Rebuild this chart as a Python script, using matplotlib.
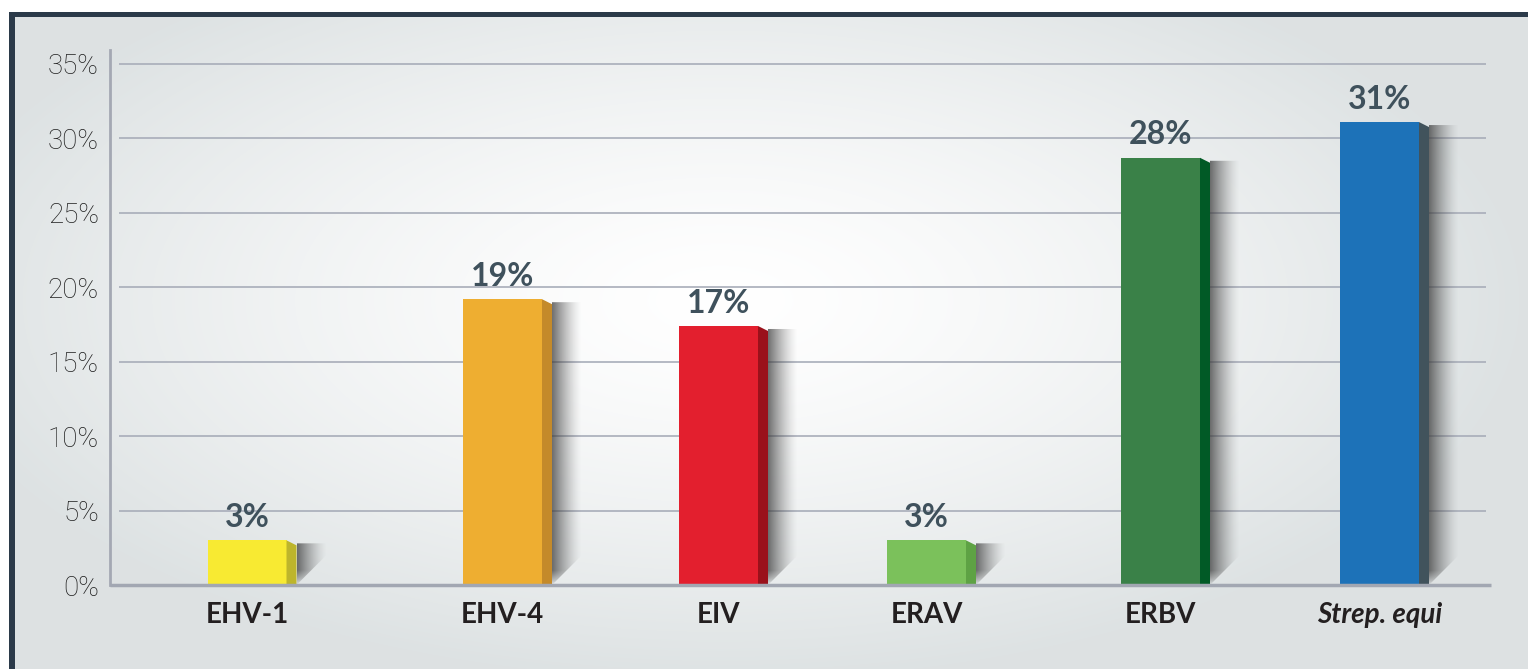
import matplotlib.pyplot as plt
import numpy as np
from matplotlib.patches import Polygon, Rectangle

categories = ['EHV-1', 'EHV-4', 'EIV', 'ERAV', 'ERBV', 'Strep. equi']
values = [3.0, 19.2, 17.4, 3.0, 28.7, 31.1]
value_labels = ['3%', '19%', '17%', '3%', '28%', '31%']
yticks = [0, 5, 10, 15, 20, 25, 30, 35]

front_colors = ['#f8ea32', '#eeae31', '#e31f2e', '#7bc15b', '#3a8148', '#1d72b8']
side_colors = ['#bdb52b', '#c48a2a', '#9a111b', '#5ea244', '#015a26', '#41535c']
x_pos = [247, 502.5, 718.5, 926.5, 1160.5, 1379.5]  # bar centres, in pixels

W, H = 1528, 669
fig = plt.figure(figsize=(W / 100, H / 100), dpi=100)

# background: soft radial glow + dark frame on top / left
bg = fig.add_axes([0, 0, 1, 1])
bg.axis('off')
yy, xx = np.mgrid[0:H, 0:W]
r = np.sqrt(((xx - 720) / 800.0) ** 2 + ((yy - 300) / 380.0) ** 2)
t = np.clip(r, 0, 1) ** 1.4
edge = np.array([0.867, 0.886, 0.890])
img = 1 - (1 - edge) * t[..., None]
dark = np.array([0.17, 0.23, 0.29])
img[:12, :] = 1
img[:, :9] = 1
img[12:17, 9:] = dark
img[12:, 9:15] = dark
bg.imshow(img, extent=[0, W, H, 0], aspect='auto', interpolation='bilinear')
bg.set_xlim(0, W)
bg.set_ylim(H, 0)

# plot area, in pixel units along x
x0, x1, ybot, ytop = 110, 1490, 585, 50
ppu = (585 - 64) / 35.0
ax = fig.add_axes([x0 / W, (H - ybot) / H, (x1 - x0) / W, (ybot - ytop) / H])
ax.patch.set_alpha(0)
ymax = (ybot - ytop) / ppu

ax.hlines(yticks[1:], 119, 1486, color='#a8adb9', lw=1.2, zorder=1)

half, side, d = 39.5, 10, 30
for x, v, fc, sc, lbl in zip(x_pos, values, front_colors, side_colors, value_labels):
    ax.add_patch(Rectangle((x - half, 0), 2 * half, v, facecolor=fc, edgecolor='none', zorder=4))
    ax.add_patch(Polygon([(x + half, 0), (x + half, v), (x + half + side, v - 5 / ppu),
                          (x + half + side, 0)], closed=True, facecolor=sc, edgecolor='none', zorder=4))
    # shadow
    xs = x + half + side
    top = v - 3 / ppu
    dy = d / ppu
    if top > dy:
        pts = [(xs, top), (xs + d, top), (xs + d, dy), (xs, 0)]
    else:
        pts = [(xs, top), (xs + d * top / dy, top), (xs, 0)]
    clip = Polygon(pts, closed=True, facecolor='none', edgecolor='none')
    ax.add_patch(clip)
    nrow = max(int(top * ppu), 2)
    u = np.linspace(0, 1, 60)
    ah = 0.72 * (1 - u) ** 1.4
    vpx = np.arange(nrow)
    av = np.clip(vpx / 14.0, 0, 1) ** 0.8
    alpha = av[:, None] * ah[None, :]
    sh = np.zeros((nrow, 60, 4))
    sh[..., :3] = 0.22
    sh[..., 3] = alpha
    im = ax.imshow(sh, extent=[xs, xs + d, top, 0], aspect='auto', zorder=3,
                   interpolation='bilinear', origin='upper')
    im.set_clip_path(clip)
    ax.annotate(lbl, (x, v), xytext=(0, 6), textcoords='offset points',
                ha='center', va='bottom', fontfamily='Lato', fontweight='bold',
                fontsize=23, color='#3f515c', zorder=5)

for s in ax.spines.values():
    s.set_visible(False)
ax.plot([x0, x0], [0, ymax], color='#a4a8b3', lw=2, clip_on=False, zorder=2)
ax.plot([x0, 1491], [0, 0], color='#a2a7b2', lw=2.5, clip_on=False, zorder=5,
        solid_capstyle='butt')

ax.set_yticks(yticks, [f'{t}%' for t in yticks])
ax.tick_params(axis='y', length=0, pad=8, labelsize=20, labelcolor='#1e1e1e')
for lab in ax.get_yticklabels():
    lab.set_fontfamily('Roboto')
    lab.set_fontweight('light')

ax.set_xticks(x_pos, categories)
ax.tick_params(axis='x', length=0, pad=12, labelsize=20, labelcolor='#231f20')
for lab in ax.get_xticklabels():
    lab.set_fontfamily('Lato')
    lab.set_fontweight('bold')
ax.get_xticklabels()[-1].set_fontstyle('italic')

ax.set_xlim(x0, x1)
ax.set_ylim(0, ymax)

fig.savefig('out.png', dpi=100)
